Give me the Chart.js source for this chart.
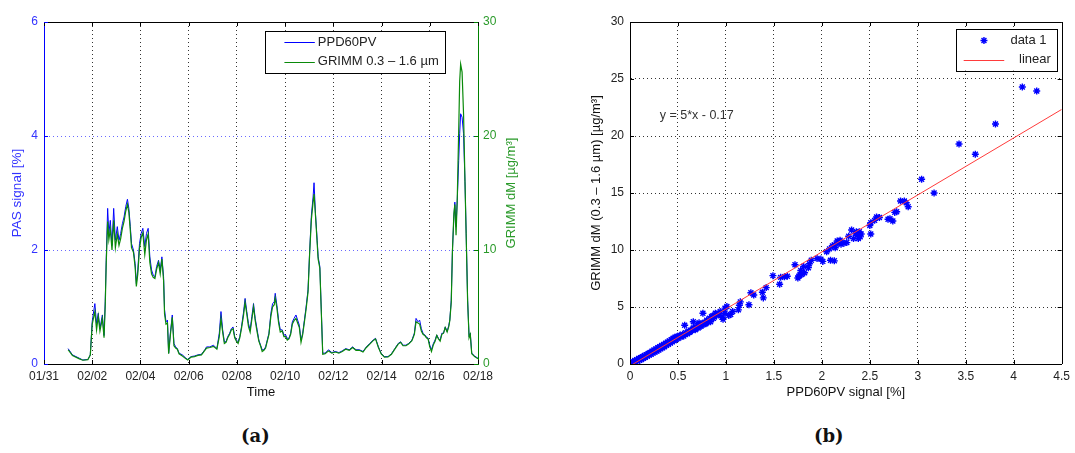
<!DOCTYPE html>
<html>
<head>
<meta charset="utf-8">
<script src="https://cdn.jsdelivr.net/npm/chart.js@4.4.0/dist/chart.umd.min.js"></script>
<style>
body { margin: 0; background: #fff; width: 1075px; height: 453px; position: relative; overflow: hidden; }
#graficoA { position: absolute; left: 0; top: 0; }
#graficoB { position: absolute; left: 540px; top: 0; }
.cap { position: absolute; top: 425px; font-family: "DejaVu Serif", serif; font-weight: bold; font-size: 18px; color: #111; }
</style>
</head>
<body>
<canvas id="graficoA" width="540" height="410"></canvas>
<canvas id="graficoB" width="535" height="410"></canvas>
<div class="cap" style="left:241px">(a)</div>
<div class="cap" style="left:814px">(b)</div>
<script>
// Datos del panel (a): serie temporal (dias desde 01/31)
const tiempos = [
    1.00, 1.18, 1.47, 1.61, 1.82, 1.92, 2.00, 2.11, 2.18, 2.25, 2.32, 2.42, 2.49, 2.54, 2.58, 2.64,
    2.69, 2.75, 2.82, 2.89, 2.96, 3.04, 3.11, 3.18, 3.25, 3.32, 3.39, 3.46, 3.52, 3.58, 3.63, 3.71,
    3.78, 3.83, 3.89, 3.96, 4.03, 4.10, 4.18, 4.25, 4.32, 4.39, 4.46, 4.53, 4.60, 4.67, 4.75, 4.82,
    4.89, 4.96, 5.00, 5.06, 5.12, 5.17, 5.24, 5.32, 5.39, 5.46, 5.53, 5.60, 5.74, 5.89, 5.96, 6.10,
    6.24, 6.38, 6.53, 6.67, 6.74, 6.88, 7.03, 7.17, 7.27, 7.34, 7.41, 7.48, 7.55, 7.62, 7.70, 7.77,
    7.84, 7.91, 7.98, 8.05, 8.12, 8.19, 8.27, 8.34, 8.41, 8.48, 8.55, 8.62, 8.69, 8.76, 8.84, 8.91,
    8.98, 9.05, 9.12, 9.19, 9.26, 9.33, 9.41, 9.48, 9.55, 9.59, 9.66, 9.73, 9.80, 9.88, 9.95, 10.02,
    10.09, 10.16, 10.23, 10.30, 10.37, 10.45, 10.52, 10.59, 10.66, 10.73, 10.80, 10.87, 10.95, 11.02,
    11.09, 11.16, 11.20, 11.26, 11.33, 11.37, 11.44, 11.51, 11.56, 11.66, 11.80, 11.94, 12.08, 12.23,
    12.37, 12.51, 12.66, 12.80, 12.94, 13.08, 13.23, 13.37, 13.51, 13.65, 13.75, 13.87, 13.98, 14.12,
    14.27, 14.41, 14.55, 14.69, 14.79, 14.89, 15.01, 15.12, 15.26, 15.36, 15.43, 15.51, 15.58, 15.65,
    15.72, 15.79, 15.86, 15.93, 16.00, 16.07, 16.15, 16.22, 16.29, 16.36, 16.43, 16.50, 16.57, 16.64,
    16.72, 16.79, 16.83, 16.89, 16.94, 17.00, 17.04, 17.09, 17.14, 17.20, 17.24, 17.28, 17.34, 17.40,
    17.46, 17.51, 17.57, 17.63, 17.68, 17.74, 17.86, 18.00
];
const senalPAS = [
    0.27, 0.16, 0.10, 0.07, 0.08, 0.16, 0.75, 1.06, 0.71, 0.89, 0.62, 0.86, 0.50, 1.10, 1.82, 2.73,
    2.29, 2.52, 2.08, 2.73, 2.17, 2.41, 2.17, 2.29, 2.46, 2.58, 2.76, 2.89, 2.73, 2.41, 2.11, 2.00,
    1.76, 1.41, 1.65, 2.11, 2.29, 2.38, 2.06, 2.29, 2.38, 1.88, 1.65, 1.56, 1.53, 1.71, 1.82, 1.65,
    1.88, 1.53, 0.95, 0.74, 0.77, 0.19, 0.54, 0.86, 0.36, 0.30, 0.27, 0.19, 0.16, 0.10, 0.08, 0.13,
    0.14, 0.16, 0.17, 0.25, 0.30, 0.30, 0.33, 0.27, 0.54, 0.92, 0.60, 0.39, 0.39, 0.48, 0.54, 0.62,
    0.65, 0.48, 0.42, 0.39, 0.48, 0.65, 0.89, 1.15, 0.92, 0.71, 0.60, 0.83, 1.06, 0.80, 0.60, 0.42,
    0.33, 0.25, 0.25, 0.30, 0.42, 0.54, 0.89, 1.06, 1.09, 1.24, 1.03, 0.77, 0.60, 0.60, 0.51, 0.51,
    0.45, 0.45, 0.54, 0.74, 0.80, 0.86, 0.77, 0.68, 0.42, 0.54, 0.77, 1.00, 1.30, 2.00,
    2.61, 2.93, 3.18, 2.64, 2.17, 1.88, 1.71, 0.83, 0.19, 0.19, 0.25, 0.20, 0.22, 0.20,
    0.23, 0.27, 0.25, 0.30, 0.25, 0.25, 0.22, 0.30, 0.36, 0.42, 0.45, 0.30, 0.19, 0.13,
    0.13, 0.18, 0.27, 0.36, 0.39, 0.33, 0.33, 0.36, 0.42, 0.54, 0.80, 0.74, 0.77, 0.62,
    0.54, 0.51, 0.48, 0.45, 0.33, 0.25, 0.36, 0.42, 0.51, 0.45, 0.42, 0.54, 0.54, 0.65,
    0.57, 0.68, 0.77, 1.12, 2.00, 2.58, 2.84, 2.41, 2.87, 3.57, 4.04, 4.39, 4.33, 4.04,
    3.20, 2.29, 1.12, 0.48, 0.54, 0.19, 0.14, 0.10
];
const grimmDM = [
    1.25, 0.75, 0.45, 0.33, 0.38, 0.78, 3.5, 4.6, 3.0, 4.2, 2.9, 4.0, 2.3, 5.2, 8.8, 12.5,
    10.9, 11.8, 10.0, 12.6, 10.2, 11.4, 10.4, 11.0, 11.9, 12.5, 13.4, 14.0, 13.3, 11.7, 10.2, 9.8,
    8.5, 6.8, 7.9, 10.1, 11.1, 11.5, 9.6, 10.9, 11.4, 8.9, 7.9, 7.6, 7.5, 8.3, 8.9, 7.9,
    9.2, 7.3, 4.4, 3.5, 3.6, 0.9, 2.5, 4.1, 1.6, 1.4, 1.3, 0.9, 0.7, 0.45, 0.35, 0.6,
    0.65, 0.75, 0.8, 1.2, 1.4, 1.45, 1.55, 1.3, 2.4, 4.0, 2.8, 1.8, 1.9, 2.3, 2.6, 3.0,
    3.1, 2.3, 2.0, 1.8, 2.3, 3.1, 4.2, 5.4, 4.4, 3.3, 2.8, 3.9, 5.0, 3.8, 2.8, 2.0,
    1.6, 1.1, 1.2, 1.4, 2.0, 2.6, 4.2, 5.0, 5.2, 5.8, 4.9, 3.6, 2.8, 2.9, 2.4, 2.4,
    2.1, 2.2, 2.6, 3.5, 3.8, 4.0, 3.6, 3.2, 1.9, 2.6, 3.7, 4.8, 6.3, 9.8,
    12.7, 14.2, 14.9, 13.0, 10.6, 9.2, 8.4, 4.0, 0.85, 0.9, 1.15, 0.95, 1.05, 0.95,
    1.1, 1.3, 1.2, 1.45, 1.2, 1.2, 1.05, 1.45, 1.75, 2.05, 2.2, 1.45, 0.9, 0.6,
    0.62, 0.85, 1.3, 1.75, 1.9, 1.6, 1.6, 1.75, 2.05, 2.6, 3.7, 3.6, 3.5, 2.9,
    2.6, 2.5, 2.3, 2.2, 1.5, 1.1, 1.7, 2.0, 2.5, 2.2, 2.0, 2.6, 2.7, 3.2,
    2.8, 3.3, 3.8, 5.4, 9.9, 13.2, 14.0, 11.3, 14.5, 20.5, 24.8, 26.3, 25.6, 22.0,
    16.0, 11.2, 5.5, 2.3, 2.6, 0.9, 0.65, 0.45
];
const fechasTicks = ["01/31", "02/02", "02/04", "02/06", "02/08", "02/10", "02/12", "02/14", "02/16", "02/18"];

// Datos del panel (b): dispersion PPD60PV vs GRIMM
const dispPAS = [
    4.09, 4.24, 3.81, 3.43, 3.60, 3.04, 3.17, 2.82, 2.86, 2.88, 2.90, 2.76, 2.78, 2.71, 2.74, 2.69,
    2.57, 2.60, 2.55, 2.51, 2.50, 2.51, 2.31, 2.35, 2.37, 2.39, 2.40, 2.38, 2.33, 2.41, 2.36, 2.28,
    2.26, 2.23, 2.17, 2.19, 2.16, 2.13, 2.14, 2.11, 2.20, 2.08, 2.05, 2.13, 2.09, 1.99, 1.95, 2.01,
    1.89, 1.87, 1.86, 1.81, 1.72, 1.78, 1.77, 1.75, 1.79, 1.82, 1.76, 1.64, 1.61, 1.57, 1.49, 1.56,
    1.42, 1.38, 1.39, 1.26, 1.29, 1.24, 1.14, 1.13, 1.15, 1.07, 1.01, 0.99, 0.99, 0.94, 0.92, 0.89,
    0.85, 0.87, 0.84, 0.76, 0.80, 0.76, 0.73, 0.71, 0.68, 0.66, 0.57,
    0.02, 0.03, 0.04, 0.05, 0.06, 0.07, 0.08, 0.09, 0.10, 0.11, 0.12, 0.13, 0.14, 0.15, 0.16, 0.17,
    0.18, 0.19, 0.20, 0.21, 0.22, 0.23, 0.24, 0.25, 0.26, 0.27, 0.28, 0.29, 0.30, 0.31, 0.32, 0.33,
    0.34, 0.35, 0.36, 0.37, 0.38, 0.39, 0.40, 0.41, 0.42, 0.43, 0.44, 0.45, 0.46, 0.47, 0.48, 0.49,
    0.50, 0.52, 0.53, 0.55, 0.56, 0.58, 0.60, 0.61, 0.63, 0.65, 0.67, 0.69, 0.71, 0.72, 0.74, 0.78,
    0.79, 0.82, 0.83, 0.86, 0.88, 0.90, 0.93, 0.96, 0.97, 1.03, 1.05,
    0.05, 0.10, 0.15, 0.20, 0.25, 0.30, 0.35, 0.40, 0.45, 0.12, 0.18, 0.22, 0.28, 0.33, 0.38, 0.43,
    0.47, 0.51, 0.54, 0.57, 0.62, 0.64, 0.66, 0.68, 0.70, 0.75, 0.77, 0.80
];
const dispGRIMM = [
    24.3, 23.95, 21.05, 19.3, 18.4, 16.2, 15.0, 14.3, 14.3, 14.15, 13.8, 13.3, 13.35, 12.75, 12.55, 12.7,
    12.9, 12.85, 12.6, 12.4, 12.15, 11.4, 11.75, 11.45, 11.3, 11.6, 11.15, 11.0, 11.0, 11.4, 11.6, 11.2,
    10.65, 10.6, 10.6, 10.85, 10.8, 10.45, 10.2, 10.35, 10.5, 10.1, 9.85, 9.05, 9.1, 9.2, 9.25, 9.0,
    9.1, 8.8, 8.45, 8.55, 8.7, 8.2, 7.8, 7.55, 7.85, 8.0, 7.7, 7.7, 7.65, 7.6, 7.75, 7.0,
    6.7, 6.3, 5.8, 6.25, 6.05, 5.2, 5.15, 4.75, 5.45, 4.6, 5.05, 4.9, 4.45, 4.6, 4.3, 4.45,
    4.15, 4.0, 3.7, 4.45, 3.85, 3.55, 3.4, 3.15, 3.0, 3.7, 3.4,
    0.10, 0.20, 0.05, 0.30, 0.15, 0.38, 0.25, 0.48, 0.32, 0.55, 0.40, 0.63, 0.50, 0.74, 0.58, 0.82,
    0.68, 0.92, 0.78, 1.02, 0.86, 1.12, 0.96, 1.22, 1.05, 1.32, 1.14, 1.42, 1.22, 1.52, 1.34, 1.62,
    1.42, 1.72, 1.52, 1.82, 1.64, 1.92, 1.72, 2.02, 1.84, 2.14, 1.94, 2.26, 2.04, 2.34, 2.14, 2.42,
    2.24, 2.52, 2.36, 2.62, 2.46, 2.74, 2.66, 2.90, 2.84, 3.06, 3.04, 3.26, 3.38, 3.62, 3.30, 3.66,
    3.52, 3.72, 4.02, 4.22, 4.12, 4.38, 4.40, 4.10, 3.92, 4.25, 4.35,
    0.20, 0.45, 0.62, 0.92, 1.10, 1.40, 1.60, 1.88, 2.12, 0.55, 0.80, 1.00, 1.28, 1.48, 1.78, 2.00,
    2.20, 2.40, 2.48, 2.60, 2.78, 2.95, 3.15, 3.10, 3.20, 3.42, 3.48, 3.62
];
// Recta de ajuste (extremos)
const ajusteX = [0.03, 4.5];
const ajusteY = [-0.02, 22.33];
const dispTicksX = ["0", "0.5", "1", "1.5", "2", "2.5", "3", "3.5", "4", "4.5"];
const ecuacionTexto = "y = 5*x - 0.17";
const ecuacionPos = [0.31, 21.8];

const fuente = "'Liberation Sans', Arial, sans-serif";
Chart.defaults.font.family = fuente;
Chart.defaults.font.size = 12;

function pares(xs, ys) {
    return xs.map((x, i) => ({ x: x, y: ys[i] }));
}

function lineaH(ctx, x1, x2, y) {
    ctx.beginPath();
    ctx.moveTo(x1, Math.round(y) + 0.5);
    ctx.lineTo(x2, Math.round(y) + 0.5);
    ctx.stroke();
}
function lineaV(ctx, x, y1, y2) {
    ctx.beginPath();
    ctx.moveTo(Math.round(x) + 0.5, y1);
    ctx.lineTo(Math.round(x) + 0.5, y2);
    ctx.stroke();
}

// asterisco tipo MATLAB
function asterisco(ctx, x, y, r) {
    const d = r * 0.7;
    ctx.beginPath();
    ctx.moveTo(x - r, y); ctx.lineTo(x + r, y);
    ctx.moveTo(x, y - r); ctx.lineTo(x, y + r);
    ctx.moveTo(x - d, y - d); ctx.lineTo(x + d, y + d);
    ctx.moveTo(x - d, y + d); ctx.lineTo(x + d, y - d);
    ctx.stroke();
}

// ---------- Panel (a) ----------
const marcoA = {
    id: "marcoA",
    afterDraw(chart) {
        const { ctx, chartArea: a, scales } = chart;
        ctx.save();
        ctx.lineWidth = 1;
        ctx.strokeStyle = "#000";
        lineaH(ctx, a.left, a.right, a.top);
        // marcas hacia dentro
        scales.x.ticks.forEach((t) => {
            const px = scales.x.getPixelForValue(t.value);
            lineaV(ctx, px, a.bottom - 4, a.bottom);
            lineaV(ctx, px, a.top, a.top + 4);
        });
        ctx.strokeStyle = "#0000ff";
        scales.y.ticks.forEach((t) => {
            lineaH(ctx, a.left, a.left + 4, scales.y.getPixelForValue(t.value));
        });
        ctx.strokeStyle = "#008000";
        scales.y2.ticks.forEach((t) => {
            lineaH(ctx, a.right - 4, a.right, scales.y2.getPixelForValue(t.value));
        });

        // leyenda
        const w = a.right - a.left, h = a.bottom - a.top;
        const bx = a.left + 0.509 * w, by = a.top + 0.026 * h;
        const bw = 0.414 * w, bh = 0.122 * h;
        ctx.fillStyle = "#fff";
        ctx.fillRect(bx, by, bw, bh);
        ctx.strokeStyle = "#000";
        ctx.strokeRect(Math.round(bx) + 0.5, Math.round(by) + 0.5, Math.round(bw), Math.round(bh));
        ctx.font = "13px " + fuente;
        ctx.textBaseline = "middle";
        chart.data.datasets.forEach((ds, i) => {
            const yy = by + bh * (0.27 + 0.47 * i);
            ctx.strokeStyle = ds.borderColor;
            ctx.lineWidth = 1;
            lineaH(ctx, bx + 0.045 * w, bx + 0.115 * w, yy);
            ctx.fillStyle = "#222";
            ctx.fillText(ds.label, bx + 0.122 * w, yy);
        });

        // titulo eje derecho (girado como el izquierdo)
        ctx.save();
        ctx.translate(scales.y2.right - 29, (a.top + a.bottom) / 2);
        ctx.rotate(-Math.PI / 2);
        ctx.textAlign = "center";
        ctx.textBaseline = "middle";
        ctx.fillStyle = "#2a9a2a";
        ctx.font = "13px " + fuente;
        ctx.fillText("GRIMM dM [µg/m³]", 0, 0);
        ctx.restore();
        ctx.restore();
    },
};

new Chart(document.getElementById("graficoA"), {
    type: "line",
    data: {
        datasets: [
            {
                label: "PPD60PV",
                data: pares(tiempos, senalPAS),
                yAxisID: "y",
                borderColor: "#0000ff",
                borderWidth: 1,
                pointRadius: 0,
                tension: 0,
                order: 1,
            },
            {
                label: "GRIMM 0.3 – 1.6 µm",
                data: pares(tiempos, grimmDM),
                yAxisID: "y2",
                borderColor: "#0a8a0a",
                borderWidth: 1.2,
                pointRadius: 0,
                tension: 0,
                order: 0,
            },
        ],
    },
    options: {
        responsive: false,
        animation: false,
        layout: { padding: { top: 22, left: 0, right: 0, bottom: 0 } },
        plugins: { legend: { display: false }, tooltip: { enabled: false } },
        scales: {
            x: {
                type: "linear",
                min: 0,
                max: 18,
                ticks: {
                    stepSize: 2,
                    autoSkip: false,
                    maxRotation: 0,
                    color: "#222",
                    padding: 5,
                    callback: (v) => fechasTicks[Math.round(v / 2)],
                },
                grid: {
                    drawTicks: false,
                    color: (c) => (c.tick && (c.tick.value === 0 || c.tick.value === 18) ? "rgba(0,0,0,0)" : "#333"),
                },
                border: { color: "#000", dash: [1, 3] },
                title: { display: true, text: "Time", color: "#111", font: { size: 13 }, padding: { bottom: 10 } },
                afterFit: (s) => { s.height = 46; },
            },
            y: {
                position: "left",
                min: 0,
                max: 6,
                ticks: { stepSize: 2, color: "#3333ff", padding: 6 },
                grid: {
                    drawTicks: false,
                    color: (c) => (c.tick && (c.tick.value === 0 || c.tick.value === 6) ? "rgba(0,0,0,0)" : "#6a6aff"),
                },
                border: { color: "#0000ff", dash: [1, 3] },
                title: { display: true, text: "PAS signal [%]", color: "#3333ff", font: { size: 13.5 }, padding: { top: 9 } },
                afterFit: (s) => { s.width = 44; },
            },
            y2: {
                position: "right",
                min: 0,
                max: 30,
                ticks: { stepSize: 10, color: "#2a9a2a", padding: 5 },
                grid: { display: false, drawTicks: false },
                border: { color: "#008000" },
                afterFit: (s) => { s.width = 62; },
            },
        },
    },
    plugins: [marcoA],
});

// ---------- Panel (b) ----------
const marcoB = {
    id: "marcoB",
    afterDraw(chart) {
        const { ctx, chartArea: a, scales } = chart;
        ctx.save();
        ctx.lineWidth = 1;
        ctx.strokeStyle = "#000";
        lineaH(ctx, a.left, a.right, a.top);
        lineaV(ctx, a.right, a.top, a.bottom);
        scales.x.ticks.forEach((t) => {
            const px = scales.x.getPixelForValue(t.value);
            lineaV(ctx, px, a.bottom - 4, a.bottom);
            lineaV(ctx, px, a.top, a.top + 4);
        });
        scales.y.ticks.forEach((t) => {
            const py = scales.y.getPixelForValue(t.value);
            lineaH(ctx, a.left, a.left + 4, py);
            lineaH(ctx, a.right - 4, a.right, py);
        });

        // ecuacion del ajuste
        ctx.font = "12.5px " + fuente;
        ctx.fillStyle = "#333";
        ctx.textBaseline = "middle";
        ctx.fillText(ecuacionTexto, scales.x.getPixelForValue(ecuacionPos[0]), scales.y.getPixelForValue(ecuacionPos[1]));

        // leyenda
        const w = a.right - a.left, h = a.bottom - a.top;
        const bx = a.left + 0.755 * w, by = a.top + 0.020 * h;
        const bw = 0.233 * w, bh = 0.122 * h;
        ctx.fillStyle = "#fff";
        ctx.fillRect(bx, by, bw, bh);
        ctx.strokeStyle = "#000";
        ctx.strokeRect(Math.round(bx) + 0.5, Math.round(by) + 0.5, Math.round(bw), Math.round(bh));
        ctx.font = "13px " + fuente;
        ctx.textAlign = "right";
        const ds = chart.data.datasets;
        const y1 = by + bh * 0.28, y2 = by + bh * 0.74;
        ctx.strokeStyle = ds[0].borderColor;
        ctx.lineWidth = 1.4;
        asterisco(ctx, bx + 0.065 * w, y1, 3.5);
        ctx.fillStyle = "#222";
        ctx.fillText(ds[0].label, bx + 0.21 * w, y1);
        ctx.strokeStyle = ds[1].borderColor;
        ctx.lineWidth = 1;
        lineaH(ctx, bx + 0.018 * w, bx + 0.112 * w, y2);
        ctx.fillText(ds[1].label, bx + 0.22 * w, y2);
        ctx.restore();
    },
};

new Chart(document.getElementById("graficoB"), {
    type: "scatter",
    data: {
        datasets: [
            {
                label: "data 1",
                data: pares(dispPAS, dispGRIMM),
                pointStyle: "star",
                pointRadius: 3.5,
                borderColor: "#0000ff",
                backgroundColor: "#0000ff",
                borderWidth: 1.4,
                pointBorderWidth: 1.4,
                order: 1,
            },
            {
                label: "linear",
                type: "line",
                data: pares(ajusteX, ajusteY),
                borderColor: "#ff3b3b",
                borderWidth: 1,
                pointRadius: 0,
                showLine: true,
                order: 0,
            },
        ],
    },
    options: {
        responsive: false,
        animation: false,
        layout: { padding: { top: 22, left: 0, right: 10, bottom: 0 } },
        plugins: { legend: { display: false }, tooltip: { enabled: false } },
        scales: {
            x: {
                type: "linear",
                min: 0,
                max: 4.5,
                ticks: {
                    stepSize: 0.5,
                    autoSkip: false,
                    maxRotation: 0,
                    color: "#222",
                    padding: 5,
                    callback: (v) => dispTicksX[Math.round(v * 2)],
                },
                grid: {
                    drawTicks: false,
                    color: (c) => (c.tick && (c.tick.value === 0 || c.tick.value === 4.5) ? "rgba(0,0,0,0)" : "#333"),
                },
                border: { color: "#000", dash: [1, 3] },
                title: { display: true, text: "PPD60PV signal [%]", color: "#111", font: { size: 13 }, padding: { bottom: 10 } },
                afterFit: (s) => { s.height = 46; },
            },
            y: {
                min: 0,
                max: 30,
                ticks: { stepSize: 5, color: "#222", padding: 6 },
                grid: {
                    drawTicks: false,
                    color: (c) => (c.tick && (c.tick.value === 0 || c.tick.value === 30) ? "rgba(0,0,0,0)" : "#333"),
                },
                border: { color: "#000", dash: [1, 3] },
                title: { display: true, text: "GRIMM dM (0.3 – 1.6 µm) [µg/m³]", color: "#111", font: { size: 13 }, padding: { top: 49 } },
                afterFit: (s) => { s.width = 90; },
            },
        },
    },
    plugins: [marcoB],
});
</script>
</body>
</html>
